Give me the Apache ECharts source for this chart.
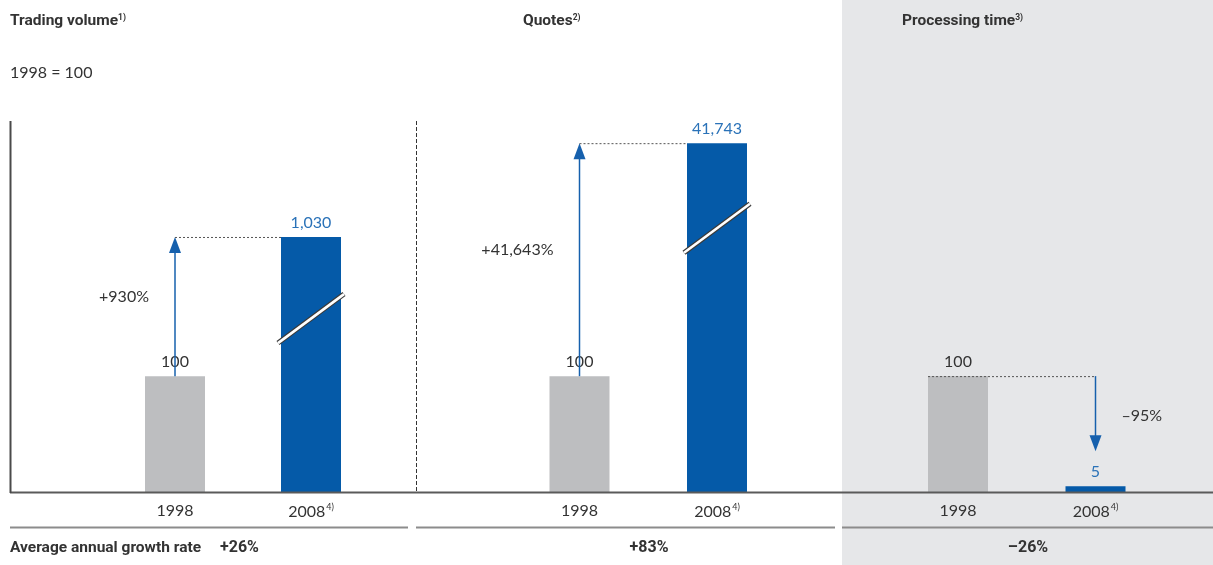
<!DOCTYPE html>
<html><head><meta charset="utf-8">
<script src="https://cdn.jsdelivr.net/npm/echarts@6/dist/echarts.min.js"></script>
<style>html,body{margin:0;padding:0;background:#fff}#c{width:1213px;height:565px}</style>
</head><body><div id="c"></div>
<script>
// ---------- data ----------
const years = ['1998', '2008'];
const yearLabels = ['1998', '2008{s|4)}'];
const panelTitles = ['Trading volume', 'Quotes', 'Processing time'];
const titleNotes = ['1)', '2)', '3)'];
const tradingVolume = [100, 1030];
const quotes = [100, 41743];
const processingTime = [100, 5];
const changeLabels = ['+930%', '+41,643%', '\u201395%'];
const growthRates = ['+26%', '+83%', '\u201326%'];
const growthCaption = 'Average annual growth rate';
const indexNote = '1998 = 100';
// axis scales (broken value axes)
const axisMax = [1131, 41763, 321];
const axisBreaks = [[148, 961], [226, 41671], null];

// ---------- styles ----------
const GRAY = '#bdbec0', BLUE = '#055aa8', LBLUE = '#2a72b8', ABLUE = '#1660ad';
const TXT = '#333333';
const NUM_FONT = 'Lato, "Open Sans", sans-serif';
const BOLD_FONT = 'Roboto, "Liberation Sans", sans-serif';
const panelValues = [tradingVolume, quotes, processingTime];
const gridLeft = [107, 510.75, 889.25];
const gridWidth = [272, 275, 275];

const chart = echarts.init(document.getElementById('c'), null, {renderer: 'canvas'});

const grids = [], xAxes = [], yAxes = [], series = [];
for (let i = 0; i < 3; i++) {
  grids.push({left: gridLeft[i], width: gridWidth[i], top: 120, bottom: 73, containLabel: false});
  xAxes.push({
    type: 'category', gridIndex: i, data: years,
    axisLine: {show: false}, axisTick: {show: false},
    axisLabel: {
      margin: 11, fontSize: 16, fontFamily: NUM_FONT, color: TXT,
      formatter: (v, idx) => yearLabels[idx],
      rich: {s: {fontSize: 9, fontFamily: NUM_FONT, color: TXT, verticalAlign: 'top', padding: [0, 0, 8, 1]}}
    }
  });
  const y = {
    type: 'value', gridIndex: i, min: 0, max: axisMax[i],
    axisLine: {show: false}, axisTick: {show: false}, axisLabel: {show: false}, splitLine: {show: false}
  };
  if (axisBreaks[i]) {
    y.breaks = [{start: axisBreaks[i][0], end: axisBreaks[i][1], gap: '1%'}];
    y.breakArea = {show: false, itemStyle: {color: 'rgba(0,0,0,0)', borderColor: 'rgba(0,0,0,0)', borderWidth: 0}};
  }
  yAxes.push(y);
  const vals = panelValues[i];
  series.push({
    type: 'bar', xAxisIndex: i, yAxisIndex: i, barWidth: 60, z: 2, silent: true,
    data: vals.map((v, k) => ({
      value: v,
      itemStyle: {color: k === 0 ? GRAY : BLUE},
      label: {color: k === 0 ? TXT : LBLUE}
    })),
    label: {
      show: true, position: 'top', distance: 6, fontSize: 16, fontFamily: NUM_FONT,
      formatter: p => p.value.toLocaleString('en-US')
    }
  });
  series.push({
    type: 'custom', xAxisIndex: i, yAxisIndex: i, z: 5, silent: true, data: [[0]],
    renderItem: (params, api) => {
      const a = api.coord([0, vals[0]]);
      const b = api.coord([1, vals[1]]);
      const ch = [];
      const font = '16px ' + NUM_FONT;
      if (vals[1] > vals[0]) {
        ch.push({type: 'line', shape: {x1: a[0], y1: a[1], x2: a[0], y2: b[1] + 14}, style: {stroke: ABLUE, lineWidth: 1.5}});
        ch.push({type: 'polygon', shape: {points: [[a[0], b[1]], [a[0] - 6, b[1] + 16], [a[0] + 6, b[1] + 16]]}, style: {fill: ABLUE}});
        ch.push({type: 'line', shape: {x1: a[0], y1: b[1] + 0.5, x2: b[0] - 30, y2: b[1] + 0.5}, style: {stroke: '#555', lineWidth: 1, lineDash: [2, 2]}});
        ch.push({type: 'text', style: {text: changeLabels[i], x: a[0] - 26, y: (a[1] + b[1]) / 2 - 10, align: 'right', verticalAlign: 'middle', font: font, fill: TXT}});
        if (axisBreaks[i]) {
          const c = api.coord([1, axisBreaks[i][0]]);
          const cy = c[1] - 2;
          ch.push({type: 'line', shape: {x1: c[0] - 33, y1: cy + 24.5, x2: c[0] + 33, y2: cy - 24.5}, style: {stroke: '#3a3a3a', lineWidth: 5}});
          ch.push({type: 'line', shape: {x1: c[0] - 33, y1: cy + 24.5, x2: c[0] + 33, y2: cy - 24.5}, style: {stroke: '#ffffff', lineWidth: 2.6}});
        }
      } else {
        const tipY = b[1] - 35;
        ch.push({type: 'line', shape: {x1: a[0] - 30, y1: a[1] + 0.5, x2: b[0], y2: a[1] + 0.5}, style: {stroke: '#555', lineWidth: 1, lineDash: [2, 2]}});
        ch.push({type: 'line', shape: {x1: b[0], y1: a[1], x2: b[0], y2: tipY - 14}, style: {stroke: ABLUE, lineWidth: 1.5}});
        ch.push({type: 'polygon', shape: {points: [[b[0], tipY], [b[0] - 6, tipY - 16], [b[0] + 6, tipY - 16]]}, style: {fill: ABLUE}});
        ch.push({type: 'text', style: {text: changeLabels[i], x: b[0] + 26, y: (a[1] + tipY) / 2 + 2, align: 'left', verticalAlign: 'middle', font: font, fill: TXT}});
      }
      return {type: 'group', children: ch};
    }
  });
}

const titleX = [10, 523, 902];
const titles = panelTitles.map((t, i) => ({
  text: t + '{s|' + titleNotes[i] + '}', left: titleX[i], top: 13, padding: 0,
  textStyle: {
    fontFamily: BOLD_FONT, fontSize: 15.5, fontWeight: 'bold', color: TXT,
    rich: {s: {fontFamily: BOLD_FONT, fontSize: 8.5, fontWeight: 'bold', color: TXT, verticalAlign: 'top', padding: [0, 0, 6, 0]}}
  }
}));

const graphic = [
  {type: 'rect', z: -10, shape: {x: 842, y: 0, width: 371, height: 565}, style: {fill: '#e6e7e9'}},
  {type: 'line', z: 10, shape: {x1: 10, y1: 492.5, x2: 1213, y2: 492.5}, style: {stroke: '#5a5a5a', lineWidth: 2}},
  {type: 'line', z: 10, shape: {x1: 10.5, y1: 121, x2: 10.5, y2: 493}, style: {stroke: '#4a4a4a', lineWidth: 2}},
  {type: 'line', z: 10, shape: {x1: 416.5, y1: 121, x2: 416.5, y2: 492}, style: {stroke: '#333', lineWidth: 1, lineDash: [4, 2]}},
  {type: 'line', z: 10, shape: {x1: 10, y1: 527.5, x2: 408, y2: 527.5}, style: {stroke: '#8c8c8c', lineWidth: 2}},
  {type: 'line', z: 10, shape: {x1: 416, y1: 527.5, x2: 835, y2: 527.5}, style: {stroke: '#8c8c8c', lineWidth: 2}},
  {type: 'line', z: 10, shape: {x1: 842, y1: 527.5, x2: 1213, y2: 527.5}, style: {stroke: '#8c8c8c', lineWidth: 2}},
  {type: 'text', z: 10, style: {text: indexNote, x: 10, y: 73, verticalAlign: 'middle', font: '16px ' + NUM_FONT, fill: TXT}},
  {type: 'text', z: 10, style: {text: growthCaption, x: 10, y: 548, verticalAlign: 'middle', font: 'bold 15.5px ' + BOLD_FONT, fill: TXT}},
  {type: 'text', z: 10, style: {text: growthRates[0], x: 220, y: 548, verticalAlign: 'middle', font: 'bold 16px ' + BOLD_FONT, fill: TXT}},
  {type: 'text', z: 10, style: {text: growthRates[1], x: 649, y: 548, align: 'center', verticalAlign: 'middle', font: 'bold 16px ' + BOLD_FONT, fill: TXT}},
  {type: 'text', z: 10, style: {text: growthRates[2], x: 1028, y: 548, align: 'center', verticalAlign: 'middle', font: 'bold 16px ' + BOLD_FONT, fill: TXT}}
];

chart.setOption({
  animation: false,
  backgroundColor: '#ffffff',
  title: titles,
  grid: grids, xAxis: xAxes, yAxis: yAxes, series: series,
  graphic: graphic
});
</script></body></html>
